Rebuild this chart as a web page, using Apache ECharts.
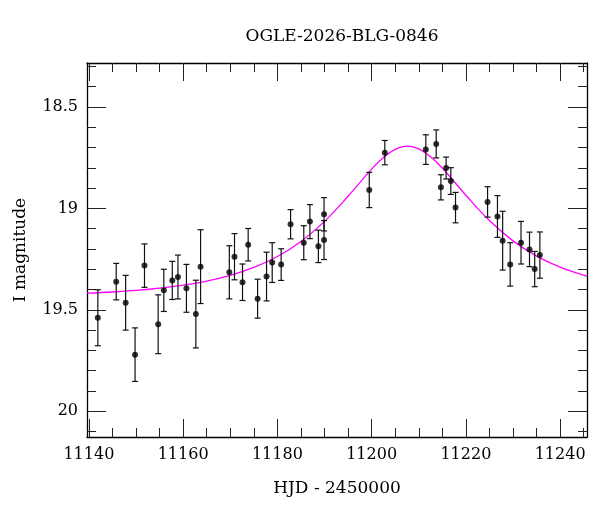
<!DOCTYPE html>
<html>
<head>
<meta charset="utf-8" />
<title>OGLE-2026-BLG-0846</title>
<script src="https://cdn.jsdelivr.net/npm/echarts@6/dist/echarts.min.js"></script>
<style>
  html, body { margin: 0; padding: 0; background: #fff; }
  #main { width: 600px; height: 512px; }
</style>
</head>
<body>
<div id="main"></div>
<script type="text/javascript">
    // photometry: HJD - 2450000, I mag, error
    var days = [11141.9, 11145.8, 11147.8, 11149.8, 11151.8, 11154.7, 11155.9, 11157.7, 11158.9, 11160.7,
                11162.7, 11163.7, 11169.8, 11170.9, 11172.6, 11173.8, 11175.8, 11177.7, 11178.9, 11180.8,
                11182.8, 11185.6, 11186.9, 11188.7, 11189.9, 11189.9, 11199.5, 11202.8, 11211.5, 11213.7,
                11214.7, 11215.8, 11216.8, 11217.8, 11224.6, 11226.7, 11227.8, 11229.4, 11231.7, 11233.5,
                11234.6, 11235.7];
    var mags = [19.539, 19.361, 19.465, 19.721, 19.282, 19.571, 19.404, 19.355, 19.338, 19.394,
                19.521, 19.287, 19.315, 19.238, 19.364, 19.179, 19.445, 19.336, 19.267, 19.277,
                19.078, 19.169, 19.065, 19.187, 19.029, 19.156, 18.909, 18.725, 18.710, 18.682,
                18.896, 18.801, 18.865, 18.996, 18.968, 19.040, 19.159, 19.276, 19.169, 19.202,
                19.299, 19.230];
    var errs = [0.138, 0.090, 0.135, 0.132, 0.107, 0.145, 0.104, 0.094, 0.108, 0.118,
                0.167, 0.182, 0.131, 0.114, 0.090, 0.080, 0.096, 0.120, 0.098, 0.078,
                0.072, 0.084, 0.084, 0.080, 0.082, 0.096, 0.087, 0.060, 0.073, 0.069,
                0.062, 0.054, 0.066, 0.075, 0.075, 0.103, 0.145, 0.107, 0.105, 0.085,
                0.087, 0.114];

    // model curve
    var curveDays = [11139.6, 11145, 11150, 11155, 11160, 11165, 11170, 11175, 11180, 11185,
                     11190, 11195, 11200, 11202.5, 11205, 11207.6, 11210, 11212.5, 11215, 11220,
                     11225, 11230, 11235, 11240, 11245.7];
    var curveMags = [19.418, 19.412, 19.404, 19.393, 19.378, 19.358, 19.330, 19.291, 19.237, 19.163,
                     19.064, 18.940, 18.806, 18.749, 18.709, 18.693, 18.706, 18.745, 18.801, 18.935,
                     19.060, 19.160, 19.235, 19.289, 19.334];

    // axis ticks
    var xMajor = [11140, 11160, 11180, 11200, 11220, 11240];
    var xMinor = [11145, 11150, 11155, 11165, 11170, 11175, 11185, 11190, 11195,
                  11205, 11210, 11215, 11225, 11230, 11235, 11245];
    var yMajor = [18.5, 19, 19.5, 20];
    var yMinor = [18.3, 18.4, 18.6, 18.7, 18.8, 18.9, 19.1, 19.2, 19.3, 19.4,
                  19.6, 19.7, 19.8, 19.9, 20.1];

    var xMin = 11139.6, xMax = 11245.7;
    var yMin = 18.283, yMax = 20.127;
    var font = 'DejaVu Serif';

    var points = [], bars = [], curve = [];
    for (var i = 0; i < days.length; i++) {
        points.push([days[i], mags[i]]);
        bars.push([days[i], mags[i], errs[i]]);
    }
    for (var j = 0; j < curveDays.length; j++) {
        curve.push([curveDays[j], curveMags[j]]);
    }

    function plain(v) { return String(v); }

    function xAx(pos, ticks, len, line, labels) {
        var a = {
            type: 'value', position: pos, min: xMin, max: xMax,
            splitLine: { show: false },
            axisLine: { show: line, onZero: false, lineStyle: { color: '#000', width: 1.3 } },
            axisTick: { show: true, inside: true, length: len, customValues: ticks,
                        lineStyle: { color: '#222', width: 1 } },
            axisLabel: { show: false }
        };
        if (labels) {
            a.axisLabel = { show: true, customValues: ticks, margin: 10, formatter: plain,
                            color: '#000', fontFamily: font, fontSize: 16 };
            a.name = 'HJD - 2450000';
            a.nameLocation = 'middle';
            a.nameGap = 43;
            a.nameTextStyle = { color: '#000', fontFamily: font, fontSize: 17 };
        }
        return a;
    }
    function yAx(pos, ticks, len, line, labels) {
        var a = {
            type: 'value', position: pos, min: yMin, max: yMax, inverse: true,
            splitLine: { show: false },
            axisLine: { show: line, onZero: false, lineStyle: { color: '#000', width: 1.3 } },
            axisTick: { show: true, inside: true, length: len, customValues: ticks,
                        lineStyle: { color: '#222', width: 1 } },
            axisLabel: { show: false }
        };
        if (labels) {
            a.axisLabel = { show: true, customValues: ticks, margin: 9, formatter: plain,
                            color: '#000', fontFamily: font, fontSize: 16 };
            a.name = 'I magnitude';
            a.nameLocation = 'middle';
            a.nameRotate = 90;
            a.nameGap = 58;
            a.nameTextStyle = { color: '#000', fontFamily: font, fontSize: 17 };
        }
        return a;
    }

    var option = {
        animation: false,
        backgroundColor: '#fff',
        title: {
            text: 'OGLE-2026-BLG-0846',
            left: 337, top: 23, textAlign: 'center',
            textStyle: { color: '#000', fontFamily: font, fontSize: 17, fontWeight: 'normal' }
        },
        grid: { left: 87, right: 13, top: 63, bottom: 75 },
        xAxis: [
            xAx('bottom', xMajor, 18, true, true),
            xAx('bottom', xMinor, 9, false, false),
            xAx('top', xMajor, 18, true, false),
            xAx('top', xMinor, 9, false, false)
        ],
        yAxis: [
            yAx('left', yMajor, 19, true, true),
            yAx('left', yMinor, 9, false, false),
            yAx('right', yMajor, 19, true, false),
            yAx('right', yMinor, 9, false, false)
        ],
        series: [{
            name: 'model',
            type: 'line',
            data: curve,
            smooth: 0.4,
            showSymbol: false,
            lineStyle: { color: '#ff00ff', width: 1.3 },
            z: 2
        }, {
            name: 'errors',
            type: 'custom',
            data: bars,
            renderItem: function (params, api) {
                var x = api.value(0), y = api.value(1), e = api.value(2);
                var top = api.coord([x, y - e]);
                var bot = api.coord([x, y + e]);
                var hw = 3;
                var st = { stroke: '#111', lineWidth: 1.2 };
                return {
                    type: 'group',
                    children: [
                        { type: 'line', shape: { x1: top[0], y1: top[1], x2: bot[0], y2: bot[1] }, style: st },
                        { type: 'line', shape: { x1: top[0] - hw, y1: top[1], x2: top[0] + hw, y2: top[1] }, style: st },
                        { type: 'line', shape: { x1: bot[0] - hw, y1: bot[1], x2: bot[0] + hw, y2: bot[1] }, style: st }
                    ]
                };
            },
            z: 3
        }, {
            name: 'I',
            type: 'scatter',
            data: points,
            symbol: 'circle',
            symbolSize: 6,
            itemStyle: { color: '#000' },
            z: 4
        }]
    };

    var myChart = echarts.init(document.getElementById('main'));
    myChart.setOption(option);
</script>
</body>
</html>
